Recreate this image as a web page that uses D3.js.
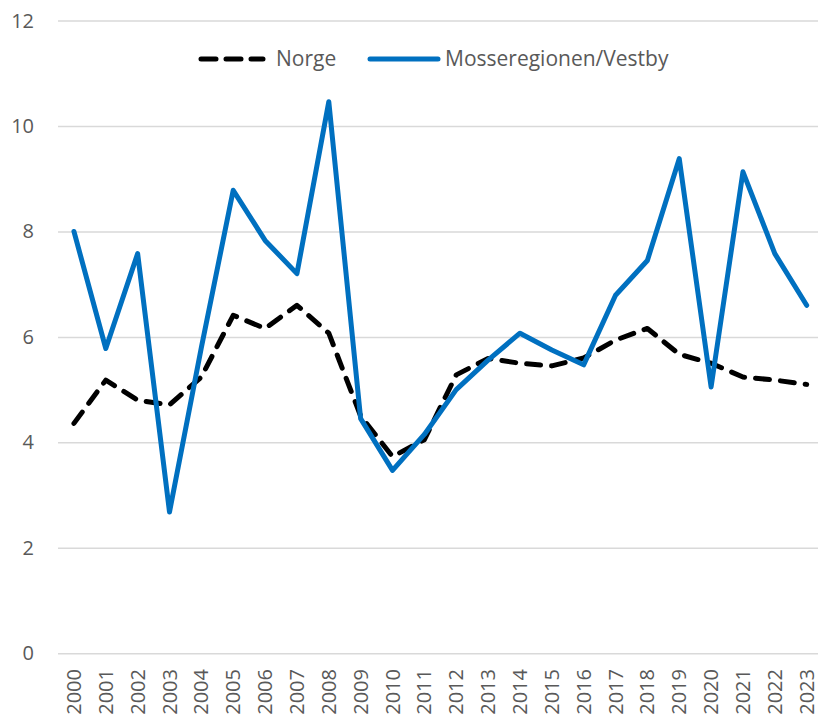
<!DOCTYPE html>
<meta charset="utf-8">
<title>Norge og Mosseregionen/Vestby</title>
<style>
    body { margin: 0; background: #fff; }
    text { font-family: "Open Sans", sans-serif; fill: #595959; }
    .grid line { stroke: #d9d9d9; stroke-width: 1.5; }
    .grid path { display: none; }
</style>
<svg width="818" height="718"></svg>
<script src="https://d3js.org/d3.v7.min.js"></script>
<script>

    var years = ["2000", "2001", "2002", "2003", "2004", "2005", "2006", "2007", "2008", "2009", "2010", "2011",
                 "2012", "2013", "2014", "2015", "2016", "2017", "2018", "2019", "2020", "2021", "2022", "2023"];

    var norge = [4.36, 5.18, 4.8, 4.71, 5.24, 6.41, 6.16, 6.6, 6.07, 4.5, 3.73, 4.05,
                 5.28, 5.59, 5.5, 5.45, 5.6, 5.94, 6.16, 5.67, 5.5, 5.24, 5.18, 5.1];

    var mosse = [8.0, 5.78, 7.58, 2.68, 5.8, 8.78, 7.83, 7.2, 10.46, 4.45, 3.47, 4.15,
                 5.0, 5.56, 6.07, 5.75, 5.47, 6.79, 7.45, 9.38, 5.05, 9.13, 7.58, 6.6];

    var yTicks = [0, 2, 4, 6, 8, 10, 12];

    var svg = d3.select("svg"),
        plotLeft = 58,
        plotRight = 822.6,
        plotTop = 20.5,
        plotBottom = 653.3;

    var x = d3.scaleBand()
        .domain(years)
        .range([plotLeft, plotRight]);

    var y = d3.scaleLinear()
        .domain([0, 12])
        .range([plotBottom, plotTop]);

    // gridlines
    svg.append("g")
        .attr("class", "grid")
        .attr("transform", "translate(" + plotLeft + ",0)")
        .call(d3.axisLeft(y).tickValues(yTicks).tickSize(-(plotRight - plotLeft)).tickFormat(""));

    // y labels
    svg.append("g").selectAll("text")
        .data(yTicks)
        .enter().append("text")
            .attr("x", 34)
            .attr("y", function(d) { return y(d); })
            .attr("dy", "0.35em")
            .attr("text-anchor", "end")
            .style("font-size", "20px")
            .text(function(d) { return d; });

    // x labels, rotated
    svg.append("g").selectAll("text")
        .data(years)
        .enter().append("text")
            .attr("transform", function(d) {
                return "translate(" + (x(d) + x.bandwidth() / 2) + ",669) rotate(-90)";
            })
            .attr("dy", "0.35em")
            .attr("text-anchor", "end")
            .style("font-size", "20px")
            .text(function(d) { return d; });

    var line = d3.line()
        .x(function(d, i) { return x(years[i]) + x.bandwidth() / 2; })
        .y(function(d) { return y(d); });

    svg.append("path")
        .datum(norge)
        .attr("d", line)
        .attr("fill", "none")
        .attr("stroke", "#000")
        .attr("stroke-width", 5)
        .attr("stroke-dasharray", "14,11")
        .attr("stroke-linecap", "round")
        .attr("stroke-linejoin", "round");

    svg.append("path")
        .datum(mosse)
        .attr("d", line)
        .attr("fill", "none")
        .attr("stroke", "#0070c0")
        .attr("stroke-width", 5)
        .attr("stroke-linecap", "round")
        .attr("stroke-linejoin", "round");

    // legend
    var legend = svg.append("g").attr("transform", "translate(0,59)");

    legend.append("line")
        .attr("x1", 201).attr("x2", 263).attr("y1", 0).attr("y2", 0)
        .attr("stroke", "#000")
        .attr("stroke-width", 5)
        .attr("stroke-dasharray", "15,10")
        .attr("stroke-linecap", "round");

    legend.append("text")
        .attr("x", 276)
        .attr("dy", "0.35em")
        .style("font-size", "21px")
        .text("Norge");

    legend.append("line")
        .attr("x1", 370).attr("x2", 438).attr("y1", 0).attr("y2", 0)
        .attr("stroke", "#0070c0")
        .attr("stroke-width", 5)
        .attr("stroke-linecap", "round");

    legend.append("text")
        .attr("x", 445)
        .attr("dy", "0.35em")
        .style("font-size", "21px")
        .text("Mosseregionen/Vestby");

</script>
